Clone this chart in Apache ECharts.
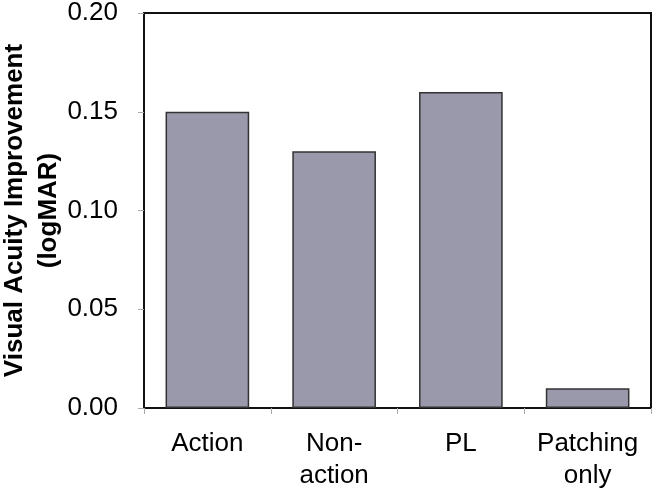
<!DOCTYPE html>
<html>
<head>
<meta charset="utf-8">
<script src="https://cdn.jsdelivr.net/npm/echarts@6/dist/echarts.min.js"></script>
<style>
  html, body { margin: 0; padding: 0; background: #fff; }
  #chart { width: 658px; height: 497px; }
</style>
</head>
<body>
<div id="chart"></div>
<script>
const categories = ["Action", "Non-\naction", "PL", "Patching\nonly"];
const improvement = [0.15, 0.13, 0.16, 0.01];
const yTicks = { min: 0, max: 0.2, interval: 0.05 };

const font = "Liberation Sans, Arial, sans-serif";
const chart = echarts.init(document.getElementById("chart"));

chart.setOption({
  animation: false,
  grid: {
    left: 144,
    right: 7,
    top: 13,
    bottom: 89,
    outerBoundsMode: "none",
    containLabel: false,
    show: true,
    borderColor: "#111",
    borderWidth: 2,
  },
  xAxis: {
    type: "category",
    data: categories,
    axisLine: { lineStyle: { color: "#111", width: 2 } },
    axisTick: {
      show: true,
      alignWithLabel: false,
      length: 6,
      lineStyle: { color: "#aaa", width: 1 },
    },
    axisLabel: {
      interval: 0,
      color: "#000",
      fontFamily: font,
      fontSize: 26,
      lineHeight: 32,
      margin: 20,
    },
  },
  yAxis: {
    type: "value",
    min: yTicks.min,
    max: yTicks.max,
    interval: yTicks.interval,
    name: "Visual Acuity Improvement\n(logMAR)",
    nameLocation: "middle",
    nameGap: 78,
    nameMoveOverlap: false,
    nameTextStyle: {
      color: "#000",
      fontFamily: font,
      fontSize: 26,
      fontWeight: "bold",
      lineHeight: 34,
    },
    splitLine: { show: false },
    axisLine: { show: true, lineStyle: { color: "#111", width: 2 } },
    axisTick: {
      show: true,
      inside: false,
      length: 6,
      lineStyle: { color: "#aaa", width: 1 },
    },
    axisLabel: {
      color: "#000",
      fontFamily: font,
      fontSize: 26,
      margin: 26,
      padding: [4, 0, 0, 0],
      formatter: (v) => v.toFixed(2),
    },
  },
  series: [
    {
      type: "bar",
      data: improvement,
      barWidth: "66%",
      itemStyle: {
        color: "#9999ab",
        borderColor: "#333",
        borderWidth: 1.5,
      },
    },
  ],
});
</script>
</body>
</html>
